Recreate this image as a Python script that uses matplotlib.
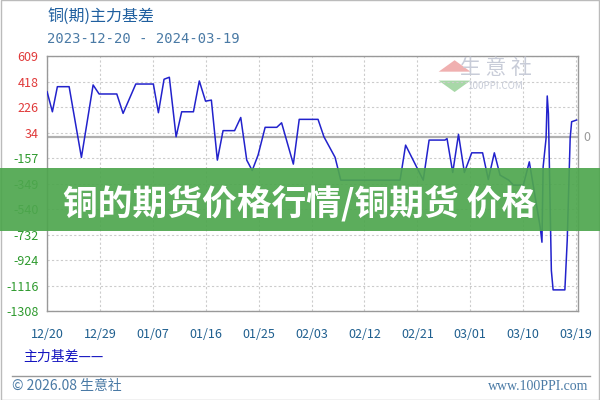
import matplotlib
matplotlib.use("Agg")
import matplotlib.pyplot as plt
import matplotlib.dates as mdates
from matplotlib.patches import Rectangle, Polygon
import datetime

plt.rcParams['font.family'] = ['Noto Sans CJK SC', 'DejaVu Sans']

start = datetime.datetime(2023, 12, 20)

# day offsets from 2023-12-20 and basis values
days = [0, 0.9, 1.75, 3.75, 5.84, 7.83, 8.85, 11.86, 12.93, 15.09,
        18.08, 18.94, 19.9, 20.8, 21.95, 22.9, 24.9, 25.9, 26.96, 27.95,
        28.97, 29.94, 31.9, 32.95, 33.97, 34.9, 35.9, 37.1, 39.08, 39.9,
        41.9, 42.9, 46.1, 47.1, 49.0, 49.97, 60.06, 61.0, 64.0, 65.0,
        67.7, 68.05, 69.02, 70.0, 71.0, 72.25, 74.1, 75.07, 76.1, 77.07,
        78.56, 79.33, 81.03, 82.05, 83.9, 84.2, 84.4, 84.9, 85.1, 85.3,
        85.8, 86.1, 88.1, 88.5, 89.0, 89.25, 90.1]
basis = [343, 192, 381, 381, -152, 394, 326, 326, 180, 401,
         401, 185, 437, 452, 4, 192, 192, 424, 272, 280,
         -172, 50, 50, 149, -172, -250, -134, 75, 75, 109,
         -202, 135, 135, 4, -151, -323, -323, -59, -323, -21,
         -21, -10, -265, 22, -265, -117, -117, -318, -117, -285,
         -323, -360, -360, -185, -676, -790, -223, -8, 311, 180,
         -1003, -1149, -1149, -777, -8, 117, 130]

y_ticks = [609, 418, 226, 34, -157, -349, -540, -732, -924, -1116, -1308]
x_tick_days = [0, 9, 18, 27, 36, 45, 54, 63, 72, 81, 90]

dates = [start + datetime.timedelta(days=d) for d in days]
x_ticks = [start + datetime.timedelta(days=d) for d in x_tick_days]

fig = plt.figure(figsize=(6, 4), dpi=100)
ax = fig.add_axes([0.078, 0.2225, 0.885, 0.6365])

ax.plot(dates, basis, color='#2222cc', linewidth=1.1, zorder=3)

ax.set_ylim(-1308, 609)
ax.set_xlim(start - datetime.timedelta(days=0.05), start + datetime.timedelta(days=90.3))
ax.set_yticks(y_ticks)
ax.set_yticklabels([str(v) for v in y_ticks])
for lab, v in zip(ax.get_yticklabels(), y_ticks):
    lab.set_color('#e03a3a' if v > 0 else '#2e9a2e')
ax.set_xticks(x_ticks)
ax.xaxis.set_major_formatter(mdates.DateFormatter('%m/%d'))
ax.tick_params(axis='both', length=0, labelsize=9)
ax.tick_params(axis='x', colors='#1f5f8f', pad=12)
ax.tick_params(axis='y', pad=6)

ax.grid(True, color='#cccccc', linestyle=(0, (2, 2)), linewidth=0.8)
ax.axhline(0, color='#b0b0b0', linewidth=1.6, zorder=2)
for s in ax.spines.values():
    s.set_color('#999999')
    s.set_linewidth(1.0)

ax.text(1.01, 0, '0', transform=ax.get_yaxis_transform(), color='#999999',
        fontsize=9, va='center', ha='left')

# titles
fig.text(47 / 600, 1 - 16 / 400, '铜(期)主力基差', color='#1f5f9f', fontsize=11.5, va='center')
fig.text(47 / 600, 1 - 39 / 400, '2023-12-20 - 2024-03-19', color='#4a7aa5', fontsize=10,
         va='center', family=['DejaVu Sans Mono', 'DejaVu Sans'])

# legend
fig.text(23 / 600, 1 - 357 / 400, '主力基差——', color='#1515c0', fontsize=10, va='center')

# footer
fig.add_artist(plt.Line2D([12 / 600, 590 / 600], [1 - 375.5 / 400] * 2, color='#999999', linewidth=1))
fig.text(12 / 600, 1 - 386 / 400, '© 2026.08 生意社', color='#4a7aa5', fontsize=10, va='center')
fig.text(588 / 600, 1 - 386 / 400, 'www.100PPI.com', color='#4a7aa5', fontsize=10, va='center',
         ha='right', family=['Liberation Serif', 'DejaVu Serif'])

# watermark
ax.text(0.845, 0.955, '生 意 社', transform=ax.transAxes, color='#c8ccd8', fontsize=15,
        ha='center', va='center')
ax.text(0.845, 0.885, '100PPI.COM', transform=ax.transAxes, color='#c8ccd8', fontsize=7,
        ha='center', va='center')
ax.add_patch(Polygon([[0.738, 0.94], [0.768, 0.985], [0.798, 0.94]], closed=True,
                     transform=ax.transAxes, facecolor='#f0b0b0', edgecolor='none', zorder=1))
ax.add_patch(Polygon([[0.738, 0.905], [0.768, 0.86], [0.798, 0.905]], closed=True,
                     transform=ax.transAxes, facecolor='#a8d8a8', edgecolor='none', zorder=1))

# banner
fig.add_artist(Rectangle((0, 1 - 231 / 400), 1, 63 / 400, transform=fig.transFigure,
                         facecolor='#4ea64e', edgecolor='none', alpha=0.92, zorder=10))
fig.text(0.5, 1 - 203 / 400, '铜的期货价格行情/铜期货 价格', color='white', fontsize=25,
         fontweight='black', ha='center', va='center', zorder=11)

# outer frame
fig.add_artist(Rectangle((0.001, 0.001), 0.998, 0.998, transform=fig.transFigure,
                         facecolor='none', edgecolor='#bbbbbb', linewidth=1))

fig.savefig('out.png', dpi=100)
